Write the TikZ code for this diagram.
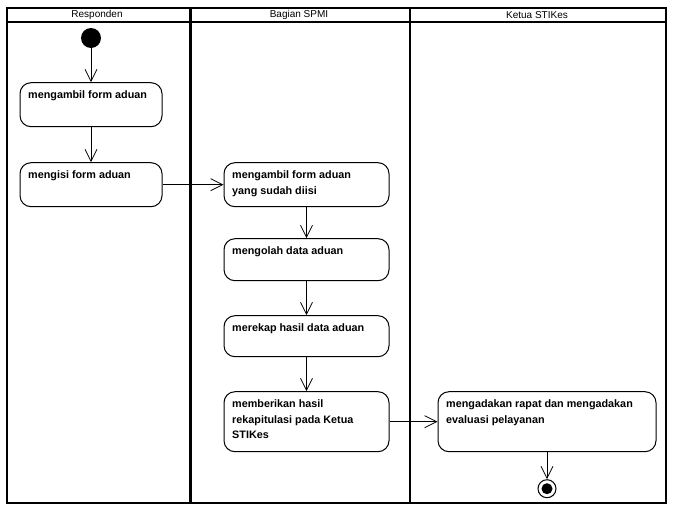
\documentclass[tikz,border=0pt]{standalone}
\usepackage{fontspec}
\setmainfont{Liberation Sans}
\usetikzlibrary{arrows.meta,positioning}

\begin{document}
\begin{tikzpicture}[
  x=1pt, y=-1pt,
  every node/.style={font=\fontsize{10}{12}\selectfont},
  aktivitas/.style={
    rectangle, rounded corners=11pt,
    draw, line width=1pt,
    minimum width=142pt, minimum height=44pt,
    inner sep=0pt},
  teks/.style={
    anchor=north west, inner sep=0pt, align=left,
    xshift=8.5pt, yshift=-8.5pt,
    font=\bfseries\fontsize{10.8}{15.5}\selectfont},
  awal/.style={
    circle, fill=black,
    minimum size=20pt, inner sep=0pt},
  akhir/.style={
    circle, draw, line width=1pt,
    minimum size=18pt, inner sep=0pt,
    path picture={\fill (path picture bounding box.center) circle (5.5pt);}},
  alur/.style={->, line width=0.8pt},
  lintasan/.style={line width=2.3pt},
  >={Straight Barb[length=12pt,width=12pt]},
  node distance=35pt and 61pt
]
  \useasboundingbox (0,0) rectangle (677,509);

  %% -- Swimlane ----------------------------------------------
  \draw[lintasan] (7,8) rectangle (666,503);
  \draw[lintasan] (7,22) -- (666,22);
  \draw[lintasan] (190.5,8) -- (190.5,503);
  \draw[lintasan] (410,8) -- (410,503);

  \node (hresponden) at (97,15) {Responden};
  \node (hspmi) at (299,15) {Bagian SPMI};
  \node (hketua) at (537,15) {Ketua STIKes};

  %% -- Responden ---------------------------------------------
  \node[awal] (mulai) at (91,38) {};

  \node[aktivitas, below=34pt of mulai,
        label={[teks]north west:mengambil form aduan}] (ambil) {};

  \node[aktivitas, below=35pt of ambil,
        label={[teks]north west:mengisi form aduan}] (isi) {};

  %% -- Bagian SPMI -------------------------------------------
  \node[aktivitas, right=61pt of isi, minimum width=165pt,
        label={[teks]north west:mengambil form aduan\\yang sudah diisi}] (ambilisi) {};

  \node[aktivitas, below=31pt of ambilisi, minimum width=165pt,
        minimum height=42pt,
        label={[teks]north west:mengolah data aduan}] (olah) {};

  \node[aktivitas, below=34pt of olah, minimum width=165pt,
        minimum height=41pt,
        label={[teks]north west:merekap hasil data aduan}] (rekap) {};

  \node[aktivitas, below=34pt of rekap, minimum width=165pt,
        minimum height=60pt,
        label={[teks]north west:memberikan hasil\\rekapitulasi pada Ketua\\STIKes}] (beri) {};

  %% -- Ketua STIKes ------------------------------------------
  \node[aktivitas, right=48pt of beri, minimum width=218pt,
        minimum height=60pt,
        label={[teks]north west:mengadakan rapat dan mengadakan\\evaluasi pelayanan}] (rapat) {};

  \node[akhir, below=27pt of rapat] (selesai) {};

  %% -- Alur --------------------------------------------------
  \draw[alur] (mulai) -- (ambil);
  \draw[alur] (ambil) -- (isi);
  \draw[alur] (isi) -- (ambilisi);
  \draw[alur] (ambilisi) -- (olah);
  \draw[alur] (olah) -- (rekap);
  \draw[alur] (rekap) -- (beri);
  \draw[alur] (beri) -- (rapat);
  \draw[alur] (rapat) -- (selesai);

\end{tikzpicture}
\end{document}
